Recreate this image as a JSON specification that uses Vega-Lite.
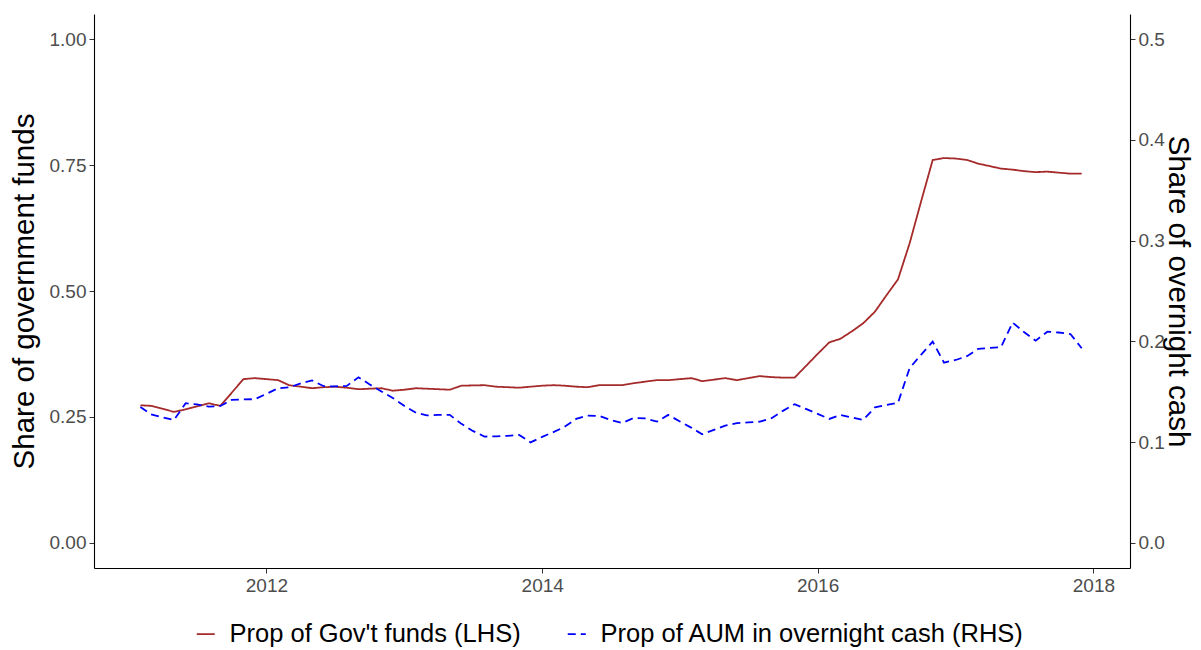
{
  "$schema": "https://vega.github.io/schema/vega-lite/v6.json",
  "width": 1036,
  "height": 554,
  "padding": {"left": 9, "top": 14, "right": 5, "bottom": 5},
  "autosize": {"type": "pad"},
  "background": "white",
  "config": {
    "view": {"stroke": null},
    "font": "Liberation Sans",
    "axis": {
      "grid": false,
      "domainColor": "#000000",
      "domainWidth": 1.1,
      "tickColor": "#333333",
      "tickSize": 5,
      "labelColor": "#4D4D4D",
      "labelFontSize": 19,
      "labelFont": "Liberation Sans",
      "titleFont": "Liberation Sans",
      "titleFontSize": 29.5,
      "titleFontWeight": "normal",
      "titleColor": "#000000",
      "labelPadding": 3
    }
  },
  "data": {
    "values": [
      {"date": "2011-02-01", "gov": 0.273, "aum": 0.1349},
      {"date": "2011-03-01", "gov": 0.272, "aum": 0.1275},
      {"date": "2011-04-01", "gov": 0.266, "aum": 0.1245},
      {"date": "2011-05-01", "gov": 0.260, "aum": 0.1220},
      {"date": "2011-06-01", "gov": 0.265, "aum": 0.1386},
      {"date": "2011-07-01", "gov": 0.271, "aum": 0.1374},
      {"date": "2011-08-01", "gov": 0.277, "aum": 0.1352},
      {"date": "2011-09-01", "gov": 0.272, "aum": 0.1359},
      {"date": "2011-10-01", "gov": 0.298, "aum": 0.1419},
      {"date": "2011-11-01", "gov": 0.325, "aum": 0.1424},
      {"date": "2011-12-01", "gov": 0.327, "aum": 0.1426},
      {"date": "2012-01-01", "gov": 0.325, "aum": 0.1478},
      {"date": "2012-02-01", "gov": 0.323, "aum": 0.1535},
      {"date": "2012-03-01", "gov": 0.313, "aum": 0.1543},
      {"date": "2012-04-01", "gov": 0.310, "aum": 0.1582},
      {"date": "2012-05-01", "gov": 0.307, "aum": 0.1612},
      {"date": "2012-06-01", "gov": 0.309, "aum": 0.1555},
      {"date": "2012-07-01", "gov": 0.310, "aum": 0.1553},
      {"date": "2012-08-01", "gov": 0.308, "aum": 0.1558},
      {"date": "2012-09-01", "gov": 0.305, "aum": 0.1644},
      {"date": "2012-10-01", "gov": 0.306, "aum": 0.1572},
      {"date": "2012-11-01", "gov": 0.307, "aum": 0.1503},
      {"date": "2012-12-01", "gov": 0.302, "aum": 0.1438},
      {"date": "2013-01-01", "gov": 0.304, "aum": 0.1359},
      {"date": "2013-02-01", "gov": 0.307, "aum": 0.1290},
      {"date": "2013-03-01", "gov": 0.306, "aum": 0.1265},
      {"date": "2013-04-01", "gov": 0.305, "aum": 0.1270},
      {"date": "2013-05-01", "gov": 0.304, "aum": 0.1270},
      {"date": "2013-06-01", "gov": 0.312, "aum": 0.1181},
      {"date": "2013-07-01", "gov": 0.3125, "aum": 0.1111},
      {"date": "2013-08-01", "gov": 0.313, "aum": 0.1055},
      {"date": "2013-09-01", "gov": 0.310, "aum": 0.1057},
      {"date": "2013-10-01", "gov": 0.309, "aum": 0.1062},
      {"date": "2013-11-01", "gov": 0.308, "aum": 0.1071},
      {"date": "2013-12-01", "gov": 0.310, "aum": 0.0997},
      {"date": "2014-01-01", "gov": 0.312, "aum": 0.1052},
      {"date": "2014-02-01", "gov": 0.313, "aum": 0.1101},
      {"date": "2014-03-01", "gov": 0.312, "aum": 0.1151},
      {"date": "2014-04-01", "gov": 0.310, "aum": 0.1230},
      {"date": "2014-05-01", "gov": 0.309, "aum": 0.1263},
      {"date": "2014-06-01", "gov": 0.313, "aum": 0.1260},
      {"date": "2014-07-01", "gov": 0.313, "aum": 0.1220},
      {"date": "2014-08-01", "gov": 0.313, "aum": 0.1190},
      {"date": "2014-09-01", "gov": 0.317, "aum": 0.1240},
      {"date": "2014-10-01", "gov": 0.320, "aum": 0.1235},
      {"date": "2014-11-01", "gov": 0.323, "aum": 0.1203},
      {"date": "2014-12-01", "gov": 0.323, "aum": 0.1270},
      {"date": "2015-01-01", "gov": 0.325, "aum": 0.1205},
      {"date": "2015-02-01", "gov": 0.327, "aum": 0.1141},
      {"date": "2015-03-01", "gov": 0.321, "aum": 0.1078},
      {"date": "2015-04-01", "gov": 0.324, "aum": 0.1121},
      {"date": "2015-05-01", "gov": 0.327, "aum": 0.1164},
      {"date": "2015-06-01", "gov": 0.323, "aum": 0.1188},
      {"date": "2015-07-01", "gov": 0.327, "aum": 0.1195},
      {"date": "2015-08-01", "gov": 0.331, "aum": 0.1203},
      {"date": "2015-09-01", "gov": 0.329, "aum": 0.1237},
      {"date": "2015-10-01", "gov": 0.328, "aum": 0.1310},
      {"date": "2015-11-01", "gov": 0.328, "aum": 0.1376},
      {"date": "2015-12-01", "gov": 0.351, "aum": 0.1329},
      {"date": "2016-01-01", "gov": 0.375, "aum": 0.1280},
      {"date": "2016-02-01", "gov": 0.398, "aum": 0.1230},
      {"date": "2016-03-01", "gov": 0.405, "aum": 0.1270},
      {"date": "2016-04-01", "gov": 0.420, "aum": 0.1245},
      {"date": "2016-05-01", "gov": 0.436, "aum": 0.1220},
      {"date": "2016-06-01", "gov": 0.459, "aum": 0.1344},
      {"date": "2016-07-01", "gov": 0.491, "aum": 0.1369},
      {"date": "2016-08-01", "gov": 0.523, "aum": 0.1389},
      {"date": "2016-09-01", "gov": 0.595, "aum": 0.1736},
      {"date": "2016-10-01", "gov": 0.677, "aum": 0.1865},
      {"date": "2016-11-01", "gov": 0.760, "aum": 0.1997},
      {"date": "2016-12-01", "gov": 0.764, "aum": 0.1789},
      {"date": "2017-01-01", "gov": 0.763, "aum": 0.1815},
      {"date": "2017-02-01", "gov": 0.760, "aum": 0.1855},
      {"date": "2017-03-01", "gov": 0.753, "aum": 0.1925},
      {"date": "2017-04-01", "gov": 0.748, "aum": 0.1935},
      {"date": "2017-05-01", "gov": 0.743, "aum": 0.1941},
      {"date": "2017-06-01", "gov": 0.741, "aum": 0.2186},
      {"date": "2017-07-01", "gov": 0.738, "aum": 0.2093},
      {"date": "2017-08-01", "gov": 0.736, "aum": 0.2007},
      {"date": "2017-09-01", "gov": 0.737, "aum": 0.2096},
      {"date": "2017-10-01", "gov": 0.735, "aum": 0.2088},
      {"date": "2017-11-01", "gov": 0.733, "aum": 0.2073},
      {"date": "2017-12-01", "gov": 0.733, "aum": 0.1932}
    ]
  },
  "layer": [
    {
      "mark": {"type": "line", "strokeWidth": 1.8, "clip": true},
      "encoding": {
        "x": {
          "field": "date",
          "type": "temporal",
          "scale": {
            "type": "utc",
            "domain": [
              {"year": 2010, "month": 10, "date": 1, "utc": true},
              {"year": 2018, "month": 4, "date": 8, "utc": true}
            ]
          },
          "axis": {
            "title": null,
            "values": [
              {"year": 2012, "month": 1, "date": 1, "utc": true},
              {"year": 2014, "month": 1, "date": 1, "utc": true},
              {"year": 2016, "month": 1, "date": 1, "utc": true},
              {"year": 2018, "month": 1, "date": 1, "utc": true}
            ],
            "format": "%Y",
            "formatType": "utc",
            "labelPadding": 3
          }
        },
        "y": {
          "field": "gov",
          "type": "quantitative",
          "scale": {"domain": [-0.05, 1.05], "nice": false, "zero": false},
          "axis": {
            "orient": "left",
            "title": "Share of government funds",
            "values": [0, 0.25, 0.5, 0.75, 1],
            "format": ".2f",
            "titlePadding": 10
          }
        },
        "color": {
          "datum": "Prop of Gov't funds (LHS)",
          "type": "nominal",
          "scale": {
            "domain": ["Prop of Gov't funds (LHS)", "Prop of AUM in overnight cash (RHS)"],
            "range": ["#A52A2A", "#0000FF"]
          },
          "legend": {
            "title": null,
            "orient": "none",
            "direction": "horizontal",
            "legendX": 99,
            "legendY": 607,
            "padding": 0,
            "symbolType": "stroke",
            "symbolSize": 324,
            "symbolStrokeWidth": 1.8,
            "labelFontSize": 25.5,
            "labelColor": "#000000",
            "labelFont": "Liberation Sans",
            "labelOffset": 11,
            "labelLimit": 800,
            "columnPadding": 43
          }
        },
        "strokeDash": {
          "datum": "Prop of Gov't funds (LHS)",
          "type": "nominal",
          "scale": {
            "domain": ["Prop of Gov't funds (LHS)", "Prop of AUM in overnight cash (RHS)"],
            "range": [[1, 0], [8, 5]]
          },
          "legend": {
            "title": null,
            "orient": "none",
            "direction": "horizontal",
            "legendX": 99,
            "legendY": 607,
            "padding": 0,
            "symbolType": "stroke",
            "symbolSize": 324,
            "symbolStrokeWidth": 1.8,
            "labelFontSize": 25.5,
            "labelColor": "#000000",
            "labelFont": "Liberation Sans",
            "labelOffset": 11,
            "labelLimit": 800,
            "columnPadding": 43
          }
        }
      }
    },
    {
      "mark": {"type": "line", "strokeWidth": 1.8, "clip": true},
      "encoding": {
        "x": {"field": "date", "type": "temporal"},
        "y": {
          "field": "aum",
          "type": "quantitative",
          "scale": {"domain": [-0.025, 0.525], "nice": false, "zero": false},
          "axis": {
            "orient": "right",
            "title": "Share of overnight cash",
            "values": [0, 0.1, 0.2, 0.3, 0.4, 0.5],
            "format": ".1f",
            "titlePadding": -2
          }
        },
        "color": {"datum": "Prop of AUM in overnight cash (RHS)", "type": "nominal"},
        "strokeDash": {"datum": "Prop of AUM in overnight cash (RHS)", "type": "nominal"}
      }
    }
  ],
  "resolve": {"scale": {"y": "independent"}}
}
